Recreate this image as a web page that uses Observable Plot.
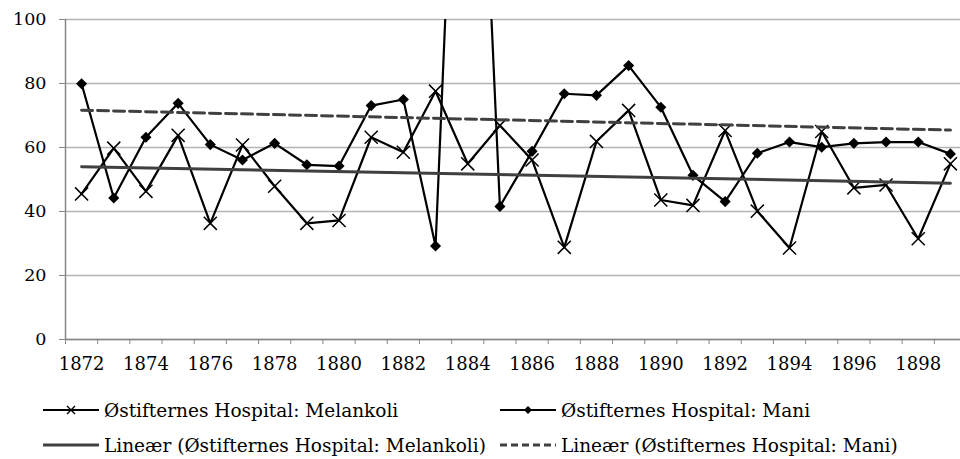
<!DOCTYPE html>
<html><head><meta charset="utf-8">
<script src="https://cdn.jsdelivr.net/npm/d3@7"></script>
<script src="https://cdn.jsdelivr.net/npm/@observablehq/plot@0.6"></script>
<style>
body{margin:0;background:#fff;font-family:"DejaVu Serif",serif;}
#chart svg{display:block;}
#legend{position:relative;width:960px;height:79px;font-size:18.5px;color:#000;}
.item{position:absolute;display:flex;align-items:center;white-space:nowrap;height:24px;}
.item svg{margin-right:5px;}
</style></head><body>
<div id="chart"></div>
<div id="legend"></div>
<script>
const years = [1872,1873,1874,1875,1876,1877,1878,1879,1880,1881,1882,1883,1884,1885,1886,1887,1888,1889,1890,1891,1892,1893,1894,1895,1896,1897,1898,1899];
const melankoli = [45.5,59.8,46.3,63.8,36.3,60.8,47.9,36.3,37.2,63.2,58.5,77.6,54.9,66.9,56.1,28.8,61.9,71.6,43.6,41.9,65.3,40.1,28.6,65.0,47.4,48.3,31.5,54.9];
const mani = [79.9,44.2,63.2,73.8,60.9,56.1,61.3,54.6,54.2,73.1,75.0,29.2,265,41.6,58.8,76.8,76.3,85.6,72.6,51.3,43.1,58.2,61.7,60.1,61.3,61.7,61.7,58.0];
const yTicks = [0,20,40,60,80,100];
const xLabelYears = [1872,1874,1876,1878,1880,1882,1884,1886,1888,1890,1892,1894,1896,1898];
const seriesNames = ["Østifternes Hospital: Melankoli","Østifternes Hospital: Mani","Lineær (Østifternes Hospital: Melankoli)","Lineær (Østifternes Hospital: Mani)"];

const dataMel = years.map((y,i)=>({year:y,value:melankoli[i]}));
const dataMani = years.map((y,i)=>({year:y,value:mani[i]}));
const xMin = years[0]-0.5, xMax = years[years.length-1]+0.5;
const boundaries = years.map(y=>y-0.5).concat([xMax]);

const fontFam = "DejaVu Serif, serif";
const chart = Plot.plot({
  width: 960, height: 380,
  marginLeft: 65, marginTop: 19, marginBottom: 41, marginRight: 0,
  style: {fontFamily: fontFam, fontSize: "17px", color: "#000", background: "#fff"},
  x: {type: "linear", domain: [xMin, xMax], range: [65, 966]},
  y: {domain: [0, 100]},
  marks: [
    Plot.gridY(yTicks, {stroke: "#b4b4b4", strokeOpacity: 1, strokeWidth: 1.3}),
    Plot.ruleX([xMin], {stroke: "#878787", strokeWidth: 1.5}),
    Plot.ruleY([0], {stroke: "#878787", strokeWidth: 1.5}),
    Plot.axisY(yTicks, {tickSize: 6, tickPadding: 13, stroke: "#878787", label: null, fontSize: 17.5, fill: "#000"}),
    Plot.axisX(boundaries, {tickSize: 5, text: null, stroke: "#878787", label: null}),
    Plot.axisX(xLabelYears, {tickSize: 0, tickPadding: 18, tickFormat: d => String(d), label: null, fontSize: 18, fill: "#000"}),
    Plot.line(dataMel, {x: "year", y: "value", stroke: "#000", strokeWidth: 2.2, clip: true}),
    Plot.line(dataMani, {x: "year", y: "value", stroke: "#000", strokeWidth: 2.2, clip: true}),
    Plot.dot(dataMel, {x: "year", y: "value", symbol: "times", r: 6, stroke: "#000", strokeWidth: 1.5, clip: true}),
    Plot.dot(dataMani, {x: "year", y: "value", symbol: "diamond2", r: 5, fill: "#000", stroke: "none", clip: true}),
    Plot.linearRegressionY(dataMel, {x: "year", y: "value", stroke: "#404040", strokeWidth: 3, ci: 0}),
    Plot.linearRegressionY(dataMani, {x: "year", y: "value", stroke: "#404040", strokeWidth: 3, strokeDasharray: "11,5", ci: 0})
  ]
});
document.getElementById("chart").appendChild(chart);

// legend
const legend = document.getElementById("legend");
const items = [
  {name: seriesNames[0], left: 43, top: 18, kind: "times"},
  {name: seriesNames[1], left: 500, top: 18, kind: "diamond"},
  {name: seriesNames[2], left: 43, top: 53, kind: "solid"},
  {name: seriesNames[3], left: 500, top: 53, kind: "dashed"}
];
for (const it of items) {
  const div = document.createElement("div");
  div.className = "item";
  div.style.left = it.left + "px";
  div.style.top = it.top + "px";
  const ns = "http://www.w3.org/2000/svg";
  const s = document.createElementNS(ns, "svg");
  s.setAttribute("width", 56); s.setAttribute("height", 14);
  const ln = document.createElementNS(ns, "line");
  ln.setAttribute("x1", 0); ln.setAttribute("x2", 56); ln.setAttribute("y1", 7); ln.setAttribute("y2", 7);
  if (it.kind === "times" || it.kind === "diamond") { ln.setAttribute("stroke", "#000"); ln.setAttribute("stroke-width", 2.2); }
  else { ln.setAttribute("stroke", "#404040"); ln.setAttribute("stroke-width", 3); }
  if (it.kind === "dashed") ln.setAttribute("stroke-dasharray", "7,4");
  s.appendChild(ln);
  if (it.kind === "times") {
    const p = document.createElementNS(ns, "path");
    p.setAttribute("d", "M24,3L32,11M32,3L24,11"); p.setAttribute("stroke", "#000"); p.setAttribute("stroke-width", 1.4);
    s.appendChild(p);
  } else if (it.kind === "diamond") {
    const p = document.createElementNS(ns, "path");
    p.setAttribute("d", "M28,3L32,7L28,11L24,7Z"); p.setAttribute("fill", "#000");
    s.appendChild(p);
  }
  div.appendChild(s);
  const t = document.createElement("span");
  t.textContent = it.name;
  div.appendChild(t);
  legend.appendChild(div);
}
</script>
</body></html>
